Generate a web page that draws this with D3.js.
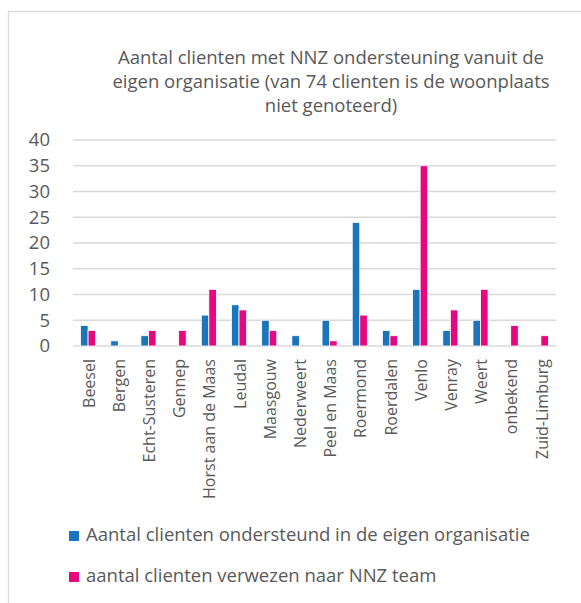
<!DOCTYPE html>
<html>
<head>
<meta charset="utf-8">
<script src="https://cdn.jsdelivr.net/npm/d3@7"></script>
<style>
  html, body { margin: 0; padding: 0; background: #fff; }
  svg { display: block; font-family: "Open Sans", sans-serif; }
</style>
</head>
<body>
<svg id="chart" width="581" height="603"></svg>
<script>
const categories = ["Beesel", "Bergen", "Echt-Susteren", "Gennep", "Horst aan de Maas", "Leudal", "Maasgouw", "Nederweert", "Peel en Maas", "Roermond", "Roerdalen", "Venlo", "Venray", "Weert", "onbekend", "Zuid-Limburg"];
const ondersteund = [4, 1, 2, 0, 6, 8, 5, 2, 5, 24, 3, 11, 3, 5, 0, 0];
const verwezen = [3, 0, 3, 3, 11, 7, 3, 0, 1, 6, 2, 35, 7, 11, 4, 2];
const seriesNames = ["Aantal clienten ondersteund in de eigen organisatie", "aantal clienten verwezen naar NNZ team"];
const seriesColors = ["#1B75BC", "#E6087F"];
const yTicks = [0, 5, 10, 15, 20, 25, 30, 35, 40];
const titleLines = ["Aantal clienten met NNZ ondersteuning vanuit de", "eigen organisatie (van 74 clienten is de woonplaats", "niet genoteerd)"];

const svg = d3.select("#chart");
const textColor = "#595959";
const gridColor = "#d9d9d9";

// chart border
svg.append("rect")
  .attr("x", 8.5).attr("y", 11.5)
  .attr("width", 620).attr("height", 640)
  .attr("fill", "#fff")
  .attr("stroke", gridColor).attr("stroke-width", 1.3);

// title
svg.append("text")
  .attr("text-anchor", "middle")
  .attr("fill", textColor)
  .style("font-size", "18.5px")
  .selectAll("tspan")
  .data(titleLines)
  .join("tspan")
  .attr("x", 331)
  .attr("y", (d, i) => 64 + i * 24)
  .text(d => d);

const plotLeft = 73, plotRight = 556, plotTop = 140, plotBottom = 346;

const y = d3.scaleLinear().domain([0, 40]).range([plotBottom, plotTop]);
const x0 = d3.scaleBand().domain(categories).range([plotLeft, plotRight])
  .paddingInner(0.5).paddingOuter(0.25);
const x1 = d3.scaleBand().domain([0, 1]).range([0, x0.bandwidth()]);

// gridlines
svg.append("g")
  .selectAll("line")
  .data(yTicks)
  .join("line")
  .attr("x1", plotLeft).attr("x2", plotRight)
  .attr("y1", d => y(d)).attr("y2", d => y(d))
  .attr("stroke", gridColor).attr("stroke-width", 1.4);

// y axis labels
const yAxis = d3.axisLeft(y).tickValues(yTicks).tickSize(0).tickPadding(0);
const yg = svg.append("g").attr("transform", "translate(50,0)").call(yAxis);
yg.select(".domain").remove();
yg.selectAll("text")
  .attr("fill", textColor)
  .style("font-size", "18.5px")
  .style("font-family", "'Open Sans', sans-serif");

// bars
const rows = categories.map((c, i) => ({ cat: c, vals: [ondersteund[i], verwezen[i]] }));
const groups = svg.append("g")
  .selectAll("g")
  .data(rows)
  .join("g")
  .attr("transform", d => `translate(${x0(d.cat)},0)`);
groups.selectAll("rect")
  .data(d => d.vals.map((v, k) => ({ v, k })))
  .join("rect")
  .filter(d => d.v > 0)
  .attr("x", d => x1(d.k))
  .attr("width", x1.bandwidth())
  .attr("y", d => y(d.v))
  .attr("height", d => y(0) - y(d.v))
  .attr("fill", d => seriesColors[d.k])
  .attr("stroke", "#fff").attr("stroke-width", 0.8);

// x axis (category labels)
const xAxis = d3.axisBottom(x0).tickSize(0).tickPadding(0);
const xg = svg.append("g").attr("transform", `translate(0,${plotBottom})`).call(xAxis);
xg.select(".domain").remove();
xg.selectAll("text")
  .attr("fill", textColor)
  .style("font-size", "16px")
  .style("font-family", "'Open Sans', sans-serif")
  .attr("text-anchor", "end")
  .attr("transform", "rotate(-90)")
  .attr("x", -13)
  .attr("y", 1)
  .attr("dy", "0.35em");

// legend
const legend = svg.append("g")
  .selectAll("g")
  .data(seriesNames)
  .join("g")
  .attr("transform", (d, i) => `translate(69,${531 + i * 41})`);
legend.append("rect")
  .attr("width", 10).attr("height", 10)
  .attr("fill", (d, i) => seriesColors[i]);
legend.append("text")
  .attr("x", 17).attr("y", 10)
  .attr("fill", textColor)
  .style("font-size", "18.5px")
  .text(d => d);
</script>
</body>
</html>
